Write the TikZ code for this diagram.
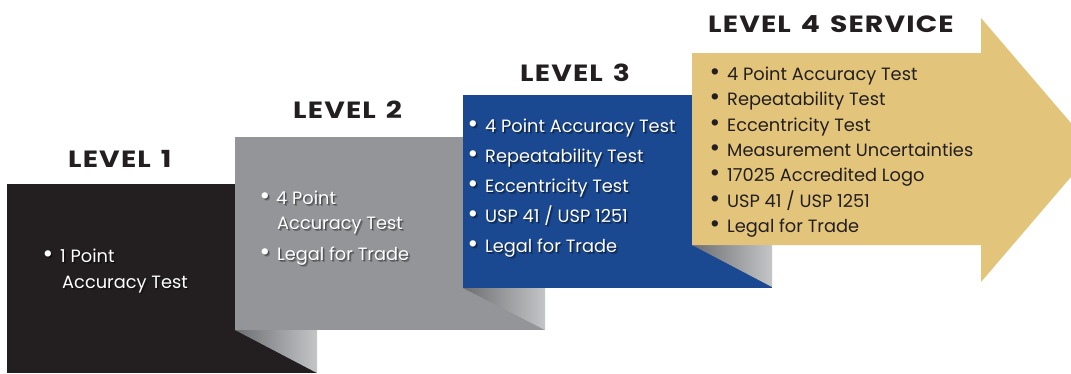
\documentclass[tikz,border=0pt]{standalone}
\usepackage{fontspec}
\usepackage{graphicx}
\setmainfont{Poppins}
\newfontfamily\titlefont[LetterSpace=5,WordSpace=1.4,FakeStretch=1.2]{Poppins}
\definecolor{ink}{HTML}{231F20}
\definecolor{lvblack}{HTML}{231F20}
\definecolor{lvgrey}{HTML}{939598}
\definecolor{lvblue}{HTML}{1A4891}
\definecolor{lvgold}{HTML}{E2C47A}
\definecolor{foldA}{HTML}{6D6E71}
\definecolor{foldB}{HTML}{C4C5C7}
\newcommand\bul{\raisebox{-0.9pt}{\scalebox{1.45}{•}}}
\begin{document}
\begin{tikzpicture}[x=1pt,y=-1pt,
  title/.style={anchor=base west, inner sep=0pt, text=ink,
    font=\titlefont\fontsize{23.5}{23.5}\selectfont\bfseries},
  bodytxt/.style={anchor=base west, inner sep=0pt, font=\fontsize{17.8}{17.8}\selectfont},
  whitetxt/.style={bodytxt, text=white},
  shadowA/.style={bodytxt, text=black, opacity=.35},
  shadowB/.style={bodytxt, text=black, opacity=.25},
  darktxt/.style={bodytxt, text=ink},
  bulw/.style={whitetxt, anchor=base},
  bulsA/.style={shadowA, anchor=base},
  bulsB/.style={shadowB, anchor=base},
  buld/.style={darktxt, anchor=base},
  fold/.style={left color=foldA, right color=foldB}
]
\newcommand\wtxt[4][whitetxt]{%
  \node[shadowB] at ([xshift=2pt,yshift=-2pt]#3) {#4};
  \node[shadowA] at ([xshift=1pt,yshift=-1pt]#3) {#4};
  \node[#1] (#2) at (#3) {#4};}
\newcommand\wbul[2]{%
  \node[bulsB] at ([xshift=2pt,yshift=-2pt]#2) {\bul};
  \node[bulsA] at ([xshift=1pt,yshift=-1pt]#2) {\bul};
  \node[bulw] (#1) at (#2) {\bul};}
\clip (0,0) rectangle (1071,373);
\fill[white] (0,0) rectangle (1071,373);

% level 1
\fill[lvblack] (7,184) rectangle (317,373);
\shade[fold] (235,330) -- (317,330) -- (317,373) -- cycle;
% level 2
\fill[lvgrey] (235,137) rectangle (545,330);
\shade[fold] (463,288) -- (545,288) -- (545,330) -- cycle;
% level 3
\fill[lvblue] (463,95) rectangle (772,288);
\shade[fold] (692,245) -- (772,245) -- (772,287) -- cycle;
% level 4 arrow
\fill[lvgold] (692,53) -- (981,53) -- (981,18) -- (1094,150) -- (981,282) -- (981,245) -- (692,245) -- cycle;

% titles
\node[title] (t1) at (68,167) {LEVEL 1};
\node[title] (t2) at (293,118) {LEVEL 2};
\node[title] (t3) at (520,81) {LEVEL 3};
\node[title] (t4) at (708,32) {LEVEL 4 SERVICE};

% level 1 text
\wbul{b1a}{48,262}
\wtxt{x1a}{60,262}{1 Point}
\wtxt{x1b}{62,288}{Accuracy Test}

% level 2 text
\wbul{b2a}{265,204}
\wtxt{x2a}{276,204}{4 Point}
\wtxt{x2b}{277,229}{Accuracy Test}
\wbul{b2b}{265,260}
\wtxt{x2c}{277,260}{Legal for Trade}

% level 3 text
\foreach \t/\y [count=\i] in {{4 Point Accuracy Test}/132,{Repeatability Test}/162,{Eccentricity Test}/192,{USP 41 / USP 1251}/222,{Legal for Trade}/252}{
  \wbul{b3\i}{473,\y}
  \wtxt{x3\i}{485,\y}{\t}
}

% level 4 text
\foreach \t/\y [count=\i] in {{4 Point Accuracy Test}/80,{Repeatability Test}/105,{Eccentricity Test}/131,{Measurement Uncertainties}/156,{17025 Accredited Logo}/181,{USP 41 / USP 1251}/207,{Legal for Trade}/232}{
  \node[buld] (b4\i) at (715,\y) {\bul};
  \node[darktxt] (x4\i) at (727,\y) {\t};
}
\end{tikzpicture}
\end{document}
